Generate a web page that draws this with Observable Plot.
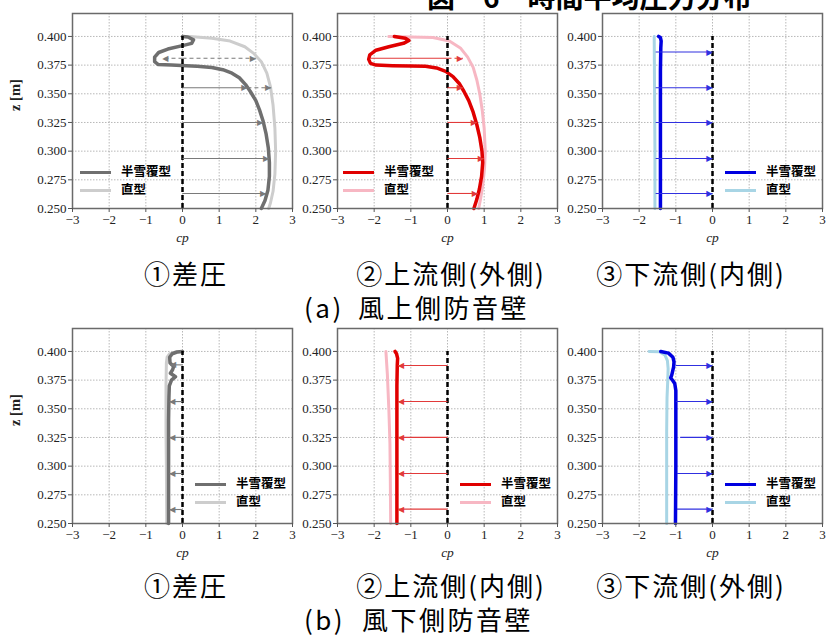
<!DOCTYPE html>
<html><head><meta charset="utf-8">
<script src="https://cdn.jsdelivr.net/npm/d3@7"></script>
<script src="https://cdn.jsdelivr.net/npm/@observablehq/plot@0.6"></script>
<style>
body{margin:0;background:#fff;}
#wrap{position:relative;width:832px;height:636px;overflow:hidden;background:#fff;font-family:"Noto Sans CJK JP",sans-serif;color:#000;}
.panel{position:absolute;}
.cap{position:absolute;font-size:26px;line-height:26px;letter-spacing:2px;white-space:nowrap;transform:translateX(-50%);}
.grp{position:absolute;font-size:26px;line-height:26px;letter-spacing:2.5px;white-space:nowrap;}
.title{position:absolute;font-size:28px;line-height:28px;white-space:nowrap;font-weight:bold;}
.leg{position:absolute;font-size:12.5px;font-weight:bold;line-height:15px;white-space:nowrap;}
.leg i{display:inline-block;width:31px;height:3px;vertical-align:middle;margin-right:10px;}
</style></head>
<body><div id="wrap"></div>
<script>
// ---------- data ----------
const xTicks = [-3, -2, -1, 0, 1, 2, 3];
const zTicks = [0.25, 0.275, 0.3, 0.325, 0.35, 0.375, 0.4];
const seriesNames = ["半雪覆型", "直型"];
const captionsA = ["①差圧", "②上流側(外側)", "③下流側(内側)"];
const captionsB = ["①差圧", "②上流側(内側)", "③下流側(外側)"];
const groupLabels = ["(a)", "(b)"];
const groupTitles = ["風上側防音壁", "風下側防音壁"];
const figTitle = "図－6　時間平均圧力分布";

// [cp, z] along each profile
const a1Half = [[0.0,0.400],[0.15,0.3995],[0.3,0.397],[0.25,0.394],[0.0,0.392],[-0.4,0.389],[-0.65,0.386],[-0.76,0.382],[-0.76,0.378],[-0.66,0.3755],[-0.3,0.375],[0.1,0.3745],[0.4,0.374],[0.8,0.373],[1.1,0.371],[1.35,0.368],[1.55,0.364],[1.72,0.358],[1.85,0.352],[2.0,0.344],[2.1,0.336],[2.2,0.326],[2.28,0.315],[2.34,0.303],[2.37,0.29],[2.37,0.278],[2.33,0.266],[2.25,0.257],[2.15,0.25]];
const a1Straight = [[0.2,0.400],[0.8,0.3985],[1.3,0.396],[1.7,0.391],[1.95,0.385],[2.15,0.378],[2.3,0.368],[2.4,0.356],[2.47,0.34],[2.52,0.32],[2.54,0.3],[2.52,0.28],[2.47,0.265],[2.4,0.255],[2.35,0.25]];
const a2Half = [[-1.45,0.4],[-1.15,0.3985],[-1.05,0.3965],[-1.2,0.394],[-1.6,0.391],[-1.95,0.388],[-2.12,0.384],[-2.15,0.380],[-2.1,0.3765],[-1.95,0.375],[-1.5,0.3745],[-1.0,0.3742],[-0.6,0.374],[-0.3,0.3725],[-0.05,0.3695],[0.15,0.365],[0.32,0.359],[0.45,0.352],[0.58,0.344],[0.7,0.334],[0.8,0.323],[0.88,0.312],[0.94,0.3],[0.96,0.29],[0.93,0.278],[0.87,0.267],[0.8,0.258],[0.72,0.25]];
const a2Straight = [[-1.6,0.4],[-1.0,0.3995],[-0.4,0.399],[0.05,0.396],[0.35,0.39],[0.55,0.382],[0.7,0.373],[0.8,0.362],[0.88,0.35],[0.95,0.335],[1.0,0.32],[1.03,0.3],[1.01,0.285],[0.96,0.27],[0.9,0.258],[0.85,0.25]];
const a3Half = [[-1.47,0.4],[-1.42,0.399],[-1.4,0.396],[-1.41,0.39],[-1.42,0.37],[-1.42,0.33],[-1.42,0.29],[-1.42,0.25]];
const a3Straight = [[-1.59,0.4],[-1.58,0.35],[-1.57,0.3],[-1.57,0.25]];
const b1Half = [[0.0,0.4],[-0.15,0.3995],[-0.28,0.398],[-0.35,0.395],[-0.34,0.39],[-0.24,0.387],[-0.27,0.384],[-0.33,0.381],[-0.19,0.378],[-0.3,0.375],[-0.36,0.37],[-0.37,0.36],[-0.38,0.34],[-0.38,0.32],[-0.38,0.3],[-0.38,0.28],[-0.38,0.25]];
const b1Straight = [[0.0,0.4],[-0.2,0.3993],[-0.35,0.398],[-0.42,0.395],[-0.44,0.39],[-0.45,0.37],[-0.45,0.33],[-0.44,0.3],[-0.43,0.25]];
const b2Half = [[-1.43,0.4],[-1.39,0.398],[-1.36,0.394],[-1.37,0.388],[-1.38,0.37],[-1.38,0.35],[-1.38,0.3],[-1.38,0.25]];
const b2Straight = [[-1.68,0.4],[-1.64,0.38],[-1.6,0.35],[-1.57,0.32],[-1.56,0.29],[-1.55,0.25]];
const b3Half = [[-1.41,0.4],[-1.2,0.3985],[-1.08,0.395],[-1.05,0.391],[-1.06,0.3866],[-1.11,0.3796],[-1.14,0.377],[-1.08,0.3745],[-1.03,0.372],[-1.0,0.366],[-1.0,0.34],[-1.0,0.3],[-1.01,0.25]];
const b3Straight = [[-1.73,0.4],[-1.45,0.3997],[-1.3,0.397],[-1.23,0.392],[-1.21,0.385],[-1.22,0.375],[-1.24,0.36],[-1.25,0.33],[-1.25,0.25]];

// arrows: [z, cp from, cp to, dashed, head at "to"]
const a1Arrows = [[0.381,0,-0.55,1,1],[0.381,0,2.0,1,1],[0.3553,0,1.77,0,1],[0.3553,1.77,2.42,1,1],[0.325,0,2.2,0,1],[0.2936,0,2.36,0,1],[0.2631,0,2.28,0,1]];
const a2Arrows = [[0.381,-2.1,0,0,0],[0.381,0,0.42,1,1],[0.3553,0,0.42,0,1],[0.325,0,0.8,0,1],[0.2936,0,0.99,0,1],[0.2631,0,0.83,0,1]];
const a3Arrows = [[0.3864,-1.55,0,0,1],[0.3553,-1.55,0,0,1],[0.325,-1.55,0,0,1],[0.2936,-1.55,0,0,1],[0.2631,-1.55,0,0,1]];
const b1Arrows = [[0.3883,0,-0.34,0,1],[0.3563,0,-0.36,0,1],[0.3251,0,-0.36,0,1],[0.2936,0,-0.36,0,1],[0.2622,0,-0.36,0,1]];
const b2Arrows = [[0.3878,0,-1.35,0,1],[0.3563,0,-1.35,0,1],[0.3251,0,-1.35,0,1],[0.2936,0,-1.35,0,1],[0.2625,0,-1.35,0,1]];
const b3Arrows = [[0.3878,-1.0,0,0,1],[0.3563,-1.0,0,0,1],[0.3251,-0.88,0,0,1],[0.2936,-0.97,0,0,1],[0.2625,-0.97,0,0,1]];

const grayC = {dark:"#6f6f6f", light:"#cdcdcd", arrow:"#7a7a7a"};
const redC = {dark:"#e00000", light:"#f7b7c3", arrow:"#e23a3a"};
const blueC = {dark:"#0000e0", light:"#a8d5e5", arrow:"#3030e0"};

// ---------- drawing ----------
const wrap = document.getElementById("wrap");
const toPts = arr => arr.map(([cp, z]) => ({cp, z}));
const toArrows = arr => arr.map(([z, x1, x2, dashed, head]) => ({z, x1, x2, dashed, head}));
const fmtX = d3.format("d");
const fmtY = d3.format(".3f");

function panel(half, straight, arrows, col, showZ) {
  const H = toPts(half), S = toPts(straight), A = toArrows(arrows);
  const zero = [{x: 0, y1: zTicks[0], y2: zTicks[zTicks.length - 1]}];
  const heads = A.filter(d => d.head);
  return Plot.plot({
    width: 292, height: 240, marginLeft: 64, marginRight: 8, marginTop: 5, marginBottom: 40,
    x: {domain: [-3, 3]},
    y: {domain: [0.25, 0.42]},
    style: {fontFamily: "'Liberation Serif', serif", fontSize: "13px", background: "transparent", color: "#222", overflow: "visible"},
    marks: [
      Plot.gridX({ticks: xTicks, stroke: "#888", strokeOpacity: 0.6, strokeDasharray: "1.5,1.5"}),
      Plot.gridY({ticks: zTicks, stroke: "#888", strokeOpacity: 0.6, strokeDasharray: "1.5,1.5"}),
      Plot.line(S, {x: "cp", y: "z", stroke: col.light, strokeWidth: 3}),
      Plot.line(H, {x: "cp", y: "z", stroke: col.dark, strokeWidth: 3.5}),
      Plot.ruleX(zero, {x: "x", y1: "y1", y2: "y2", stroke: "#000", strokeWidth: 2.5, strokeDasharray: "5,3"}),
      Plot.link(A.filter(d => !d.dashed), {x1: "x1", x2: "x2", y1: "z", y2: "z", stroke: col.arrow, strokeWidth: 1.1}),
      Plot.link(A.filter(d => d.dashed), {x1: "x1", x2: "x2", y1: "z", y2: "z", stroke: col.arrow, strokeWidth: 1.1, strokeDasharray: "4,3"}),
      Plot.text(heads.filter(d => d.x2 > d.x1), {x: "x2", y: "z", text: () => "▶", textAnchor: "end", fill: col.arrow, fontSize: 8, fontFamily: "DejaVu Sans"}),
      Plot.text(heads.filter(d => d.x2 < d.x1), {x: "x2", y: "z", text: () => "◀", textAnchor: "start", fill: col.arrow, fontSize: 8, fontFamily: "DejaVu Sans"}),
      Plot.frame({stroke: "#6a6a6a", strokeWidth: 1.5}),
      Plot.axisX({ticks: xTicks, tickFormat: fmtX, tickSize: 4, tickPadding: 2, fontSize: 13, label: null, stroke: "#555"}),
      Plot.axisY({ticks: zTicks, tickFormat: fmtY, tickSize: 4, tickPadding: 2, fontSize: 13, label: null, stroke: "#555"}),
      Plot.text(["cp"], {frameAnchor: "bottom", dy: 33, text: d => d, fontStyle: "italic", fontSize: 13.5, fill: "#222"}),
      showZ ? Plot.text(["z [m]"], {frameAnchor: "left", dx: -57, rotate: -90, text: d => d, fontWeight: "bold", fontSize: 14.5, fill: "#222"}) : null
    ]
  });
}

function place(el, left, top) {
  const d = document.createElement("div");
  d.className = "panel";
  d.style.left = left + "px"; d.style.top = top + "px";
  d.appendChild(el);
  wrap.appendChild(d);
}

const lefts = [8, 273, 538];
const rowsTop = [8, 323];
const rows = [
  [[a1Half, a1Straight, a1Arrows, grayC], [a2Half, a2Straight, a2Arrows, redC], [a3Half, a3Straight, a3Arrows, blueC]],
  [[b1Half, b1Straight, b1Arrows, grayC], [b2Half, b2Straight, b2Arrows, redC], [b3Half, b3Straight, b3Arrows, blueC]]
];
rows.forEach((row, r) => row.forEach(([h, s, a, c], i) => place(panel(h, s, a, c, i === 0), lefts[i], rowsTop[r])));

// legends
const legendPos = [[80,163],[343,163],[725,163],[195,475],[460,475],[725,475]];
const legendCols = [grayC, redC, blueC, grayC, redC, blueC];
legendPos.forEach(([x, y], k) => {
  const c = legendCols[k];
  [c.dark, c.light].forEach((colr, j) => {
    const d = document.createElement("div");
    d.className = "leg";
    d.style.left = x + "px"; d.style.top = (y + j * 17.5) + "px";
    d.innerHTML = `<i style="background:${colr}"></i>${seriesNames[j]}`;
    wrap.appendChild(d);
  });
});

// captions
const capX = [186, 451, 691];
[[captionsA, 260], [captionsB, 572]].forEach(([caps, y]) => caps.forEach((t, i) => {
  const d = document.createElement("div");
  d.className = "cap"; d.textContent = t;
  d.style.left = capX[i] + "px"; d.style.top = y + "px";
  wrap.appendChild(d);
}));
[[0, 294, 358], [1, 606, 362]].forEach(([g, y, x2]) => {
  const a = document.createElement("div");
  a.className = "grp"; a.textContent = groupLabels[g];
  a.style.left = "304px"; a.style.top = y + "px";
  wrap.appendChild(a);
  const b = document.createElement("div");
  b.className = "grp"; b.textContent = groupTitles[g];
  b.style.left = x2 + "px"; b.style.top = y + "px";
  wrap.appendChild(b);
});
const tt = document.createElement("div");
tt.className = "title"; tt.textContent = figTitle;
tt.style.left = "427px"; tt.style.top = "-18px";
wrap.appendChild(tt);
</script>
</body></html>
